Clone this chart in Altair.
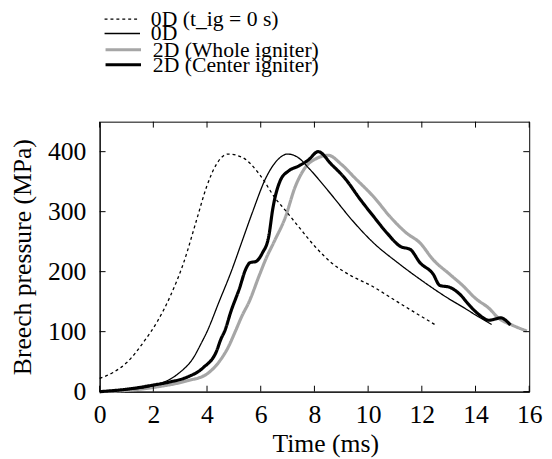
import altair as alt
import pandas as pd

series_names = ["0D (t_ig = 0 s)", "0D", "2D (Whole igniter)", "2D (Center igniter)"]
series_colors = ["black", "black", "#a6a6a6", "black"]

t_0d_ig0 = [0, 0.5, 1.0, 1.66, 2.15, 2.64, 3.13, 3.61, 3.98, 4.35, 4.78, 5.33, 5.94, 6.55, 6.92, 7.41, 8.02, 8.63, 9.37, 10.1, 11.08, 11.81, 12.48]
p_0d_ig0 = [22, 32, 48, 84, 117, 160, 215, 286, 341, 379, 396, 390, 363, 322, 302, 275, 242, 215, 193, 177, 150, 130, 112]

t_0d = [0, 1.0, 2.0, 2.9, 3.5, 3.8, 4.0, 4.45, 4.9, 5.3, 5.7, 6.2, 6.6, 7.0, 7.4, 7.8, 8.6, 9.4, 10.2, 11.1, 12.1, 13.0, 13.6, 14.1, 14.6]
p_0d = [0, 3, 10, 29, 57, 82, 100, 150, 200, 250, 300, 357, 385, 396, 390, 372, 330, 286, 248, 215, 182, 155, 139, 125, 112]

t_whole = [0, 1.0, 2.0, 3.25, 3.98, 4.47, 4.8, 5.05, 5.3, 5.57, 5.94, 6.2, 6.5, 6.92, 7.28, 7.65, 8.14, 8.51, 9.0, 9.49, 10.22, 10.83, 11.44, 11.93, 12.42, 13.03, 13.52, 14.01, 14.5, 14.87, 15.36, 15.91]
p_whole = [0, 2, 7, 18, 29, 51, 75, 100, 126, 150, 193, 222, 250, 291, 341, 373, 390, 394, 379, 357, 324, 291, 264, 248, 220, 196, 177, 155, 139, 122, 111, 101]

t_center = [0, 1.0, 2.0, 2.6, 3.25, 3.86, 4.35, 4.53, 4.65, 4.9, 5.2, 5.45, 5.6, 5.82, 6.06, 6.3, 6.45, 6.73, 7.04, 7.41, 7.77, 8.14, 8.63, 9.11, 9.73, 10.22, 10.71, 11.2, 11.57, 11.93, 12.42, 12.67, 13.03, 13.4, 13.77, 14.14, 14.5, 14.74, 14.93, 15.3]
p_center = [0, 4, 11, 16, 24, 40, 67, 89, 100, 135, 171, 205, 215, 217, 231, 259, 305, 352, 368, 376, 386, 400, 379, 357, 319, 291, 264, 242, 237, 215, 196, 177, 174, 163, 144, 128, 119, 121, 123, 111]

x_ticks = [0, 2, 4, 6, 8, 10, 12, 14, 16]
y_ticks = [0, 100, 200, 300, 400]

rows = []
for name, ts, ps in zip(series_names, [t_0d_ig0, t_0d, t_whole, t_center], [p_0d_ig0, p_0d, p_whole, p_center]):
    for i, (t, p) in enumerate(zip(ts, ps)):
        rows.append({"series": name, "t": t, "p": p, "i": i})
df = pd.DataFrame(rows)
df_xt = pd.DataFrame({"xt": x_ticks})
df_yt = pd.DataFrame({"yt": y_ticks})

W, H = 436, 274
TICK = 6
FONT = "Liberation Serif"
THIN, THICK = 1.3, 3.2

# per-series line style: (width, dash), legend offset (px from plot top)
styles = {
    "0D (t_ig = 0 s)": (THIN, [3, 3], -123.0),
    "0D": (THIN, [1, 0], -108.5),
    "2D (Whole igniter)": (THICK, [1, 0], -93.0),
    "2D (Center igniter)": (THICK, [1, 0], -77.8),
}

xs = alt.Scale(domain=[0, 16], nice=False, zero=False)
ys = alt.Scale(domain=[0, 450], nice=False)

x_main = alt.X("t:Q", scale=xs, axis=alt.Axis(orient="bottom", title="Time (ms)", values=x_ticks, ticks=False,
                                              labelPadding=10, titlePadding=4, domainColor="black",
                                              labelFlush=False, titleX=229))
y_main = alt.Y("p:Q", scale=ys, axis=alt.Axis(orient="left", title="Breech pressure (MPa)", values=y_ticks,
                                              ticks=False, labelPadding=14, titlePadding=12, domainColor="black"))

base = alt.Chart(df)


def series_layer(name, color, with_axes):
    sw, dash, ly = styles[name]
    lg = alt.Legend(
        title=None, orient="none", legendX=4, legendY=ly,
        symbolType="stroke", symbolSize=1296, symbolStrokeWidth=sw, symbolDash=dash,
        labelFont=FONT, labelFontSize=22, labelColor="black", labelOffset=10,
        padding=0, labelLimit=400,
    )
    return base.transform_filter(alt.datum.series == name).mark_line(
        interpolate="monotone", strokeWidth=sw, strokeDash=dash).encode(
        x=x_main if with_axes else alt.X("t:Q", scale=xs, axis=None),
        y=y_main if with_axes else alt.Y("p:Q", scale=ys, axis=None),
        color=alt.Color("series:N", scale=alt.Scale(domain=[name], range=[color]), legend=lg),
        order="i:Q",
    )


draw_order = ["2D (Whole igniter)", "0D (t_ig = 0 s)", "0D", "2D (Center igniter)"]
layers = []
for k, name in enumerate(draw_order):
    layers.append(series_layer(name, series_colors[series_names.index(name)], k == 0))

tb = alt.Chart(df_xt).mark_rule(color="black", strokeWidth=1).encode(
    x=alt.X("xt:Q", scale=xs, axis=None), y=alt.value(H), y2=alt.value(H - TICK))
tt = alt.Chart(df_xt).mark_rule(color="black", strokeWidth=1).encode(
    x=alt.X("xt:Q", scale=xs, axis=None), y=alt.value(0), y2=alt.value(TICK))
tl = alt.Chart(df_yt).mark_rule(color="black", strokeWidth=1).encode(
    y=alt.Y("yt:Q", scale=ys, axis=None), x=alt.value(0), x2=alt.value(TICK))
tr = alt.Chart(df_yt).mark_rule(color="black", strokeWidth=1).encode(
    y=alt.Y("yt:Q", scale=ys, axis=None), x=alt.value(W - TICK), x2=alt.value(W))

chart = alt.layer(*layers, tb, tt, tl, tr).resolve_scale(
    color="independent"
).resolve_legend(color="independent").resolve_axis(
    x="independent", y="independent"
).properties(
    width=W, height=H,
    autosize=alt.AutoSizeParams(type="none"),
    padding={"left": 93, "top": 112, "right": 15, "bottom": 65},
    background="white",
).configure_view(stroke="black", strokeWidth=1).configure_axis(
    labelFont=FONT, titleFont=FONT, labelFontSize=26, titleFontSize=26, labelColor="black",
    titleColor="black", titleFontWeight="normal", grid=False,
)

chart.save("out.html", embed_options={"renderer": "svg", "actions": False})
